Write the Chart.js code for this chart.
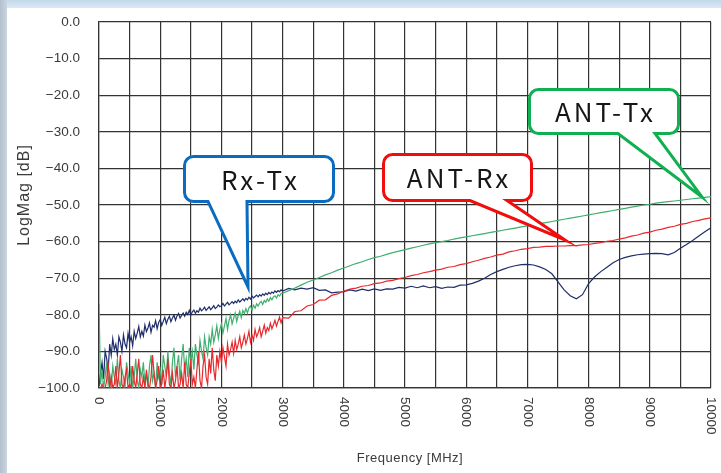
<!DOCTYPE html>
<html>
<head>
<meta charset="utf-8">
<script src="https://cdn.jsdelivr.net/npm/chart.js@4/dist/chart.umd.min.js"></script>
<style>
html,body{margin:0;padding:0;}
body{width:721px;height:473px;position:relative;overflow:hidden;background:#fff;}
#frameTop{position:absolute;left:0;top:0;width:721px;height:8px;background:linear-gradient(#c3d8ea,#dce9f4);}
#frameLeft{position:absolute;left:0;top:0;width:7px;height:473px;background:linear-gradient(90deg,#b2c0ce,#cad5df);}
#c{position:absolute;left:0;top:0;}
</style>
</head>
<body>
<div id="frameTop"></div><div id="frameLeft"></div>
<canvas id="c" width="721" height="473"></canvas>
<script>
// ====== 周波数グリッド（0-3000: 25MHz刻み, 3100-10000: 100MHz刻み）======
const freqLow = [];
for(let f=0; f<=3000; f+=25) freqLow.push(f);
const freqHigh = [];
for(let f=3100; f<=10000; f+=100) freqHigh.push(f);

const xTickLabels = [0,1000,2000,3000,4000,5000,6000,7000,8000,9000,10000];

// ====== Rx-Tx（紺）======
const rxTxLow = [
  -99.5,-96,-93,-97.5,-90,-92,-95,-88,
  -91,-86.5,-89.5,-88,-91,-86,-87.5,-90,
  -85.5,-88,-89,-85,-87.5,-86,-88.5,-84.5,
  -86.5,-85,-83.2,-86,-84.5,-85.8,-82.8,-84.6,
  -83.6,-82.2,-84.8,-82.9,-83.4,-81.6,-83.8,-82.1,
  -81.3,-82.9,-81.8,-80.7,-82.4,-81.2,-80.4,-81.9,
  -80.9,-80.1,-81.5,-80.3,-79.6,-80.9,-80.2,-79.5,
  -80.4,-79.3,-79.9,-78.8,-80.1,-79.2,-78.7,-79.6,
  -78.9,-79.3,-78.2,-78.9,-78.5,-77.9,-78.8,-78.3,
  -77.8,-78.6,-78.1,-77.5,-78.3,-77.9,-77.3,-77.8,
  -77.5,-76.9,-77.6,-77.1,-76.6,-77.3,-76.9,-76.4,
  -76.9,-76.3,-76.7,-75.9,-76.5,-76.1,-75.6,-76.2,
  -75.5,-75.9,-75.2,-75.7,-74.9,-75.4,-75.0,-74.6,
  -75.1,-74.5,-74.9,-74.3,-74.7,-74.1,-74.5,-73.9,
  -74.3,-73.8,-74.1,-73.5,-73.9,-73.4,-73.7,-73.2,
  -73.5
];
const rxTxHigh = [
  -72.8,-73.2,-72.7,-73.0,-72.6,-73.3,-73.2,-74.0,-73.8,-73.7,
  -73.2,-73.5,-73.0,-73.4,-72.9,-73.3,-72.9,-73.0,-72.5,-72.7,
  -72.2,-72.6,-72.1,-72.6,-72.3,-72.8,-72.4,-72.5,-71.9,-71.8,
  -71.4,-70.8,-70.0,-69.0,-68.2,-67.6,-67.0,-66.6,-66.3,-66.2,
  -66.4,-66.9,-67.6,-68.8,-71.0,-73.2,-74.8,-75.6,-74.5,-71.5,
  -69.6,-68.2,-67.0,-65.8,-64.9,-64.3,-63.9,-63.6,-63.4,-63.3,
  -63.2,-63.3,-63.6,-63.0,-61.8,-60.8,-59.7,-58.5,-57.3,-56.2
];

// ====== ANT-Tx（緑）======
const antTxLow = [
  -77,-99,-95,-100,-97,-93,-99,-96,
  -100,-94,-97,-99,-92,-98,-100,-95,
  -97,-100,-93,-96,-99,-94,-100,-97,
  -92,-98,-100,-95,-97,-93,-99,-96,
  -100,-94,-91,-98,-96,-100,-93,-97,
  -95,-99,-91,-94,-97,-90,-96,-99,
  -93,-89,-97,-94,-91,-98,-92,-88,
  -95,-92,-97,-89,-93,-90,-95,-88,
  -91,-93,-87,-90,-92,-86,-89,-91,
  -86,-88,-84,-87.5,-85.5,-83,-86.5,-84,
  -82.5,-85,-83,-81,-84,-81.5,-80,-82.5,
  -81,-79.5,-81.8,-80.2,-79,-80.8,-78.8,-79.6,
  -78.3,-79.5,-78.1,-77.6,-78.7,-77.4,-78.2,-77,
  -77.6,-76.8,-76.3,-77.2,-76.1,-76.6,-75.7,-76.3,
  -75.3,-75.9,-75.1,-74.8,-75.4,-74.5,-74.9,-74.2,
  -74.1
];
const antTxHigh = [
  -73.4,-72.7,-71.9,-71.1,-70.5,-69.8,-69.1,-68.5,-67.8,-67.2,
  -66.6,-66.0,-65.5,-64.9,-64.4,-64.0,-63.5,-63.0,-62.6,-62.2,
  -61.8,-61.4,-61.0,-60.6,-60.3,-60.0,-59.7,-59.3,-59.0,-58.7,
  -58.4,-58.1,-57.8,-57.5,-57.2,-56.9,-56.6,-56.3,-56.0,-55.7,
  -55.4,-55.1,-54.8,-54.5,-54.2,-53.9,-53.6,-53.3,-53.0,-52.7,
  -52.4,-52.1,-51.8,-51.5,-51.2,-50.9,-50.6,-50.3,-50.0,-49.8,
  -49.5,-49.3,-49.1,-48.9,-48.7,-48.5,-48.3,-48.1,-47.9,-47.7
];

// ====== ANT-Rx（赤）======
const antRxLow = [
  -100,-100,-99,-100,-100,-98,-93,-100,
  -97,-100,-99,-94,-100,-96,-91,-99,
  -100,-97,-95,-100,-99,-100,-94,-98,
  -100,-96,-92,-99,-100,-97,-100,-95,
  -99,-100,-97,-91,-96,-100,-98,-94,
  -100,-99,-95,-100,-97,-92,-99,-100,
  -96,-100,-98,-94,-100,-99,-96,-100,
  -93,-99,-100,-96,-92,-99,-97,-100,
  -95,-90,-98,-100,-94,-91,-97,-99,
  -92,-96,-89,-95,-98,-91,-94,-90,
  -93,-89,-91.5,-94,-88,-91,-89.5,-87.5,
  -90.5,-87,-89.5,-88,-86,-89,-87.5,-85.5,
  -88,-86.5,-84.5,-87.5,-85.5,-87,-84,-86,
  -85,-83.5,-86,-84.5,-82.8,-85,-83.5,-84.3,
  -82.3,-83.8,-82.7,-81.5,-83.1,-81.8,-80.6,-82.2,
  -80.8
];
const antRxHigh = [
  -80.9,-79.1,-78.9,-77.6,-77.2,-76.0,-75.9,-74.7,-74.3,-73.5,
  -73.0,-72.7,-72.2,-72.0,-71.5,-71.3,-70.8,-70.6,-70.1,-69.8,
  -69.3,-69.0,-68.5,-68.2,-67.8,-67.5,-67.0,-66.8,-66.3,-66.0,
  -65.5,-65.1,-64.6,-64.2,-63.7,-63.4,-62.8,-62.5,-62.1,-61.9,
  -61.6,-61.5,-61.3,-61.3,-61.2,-61.2,-61.1,-61.1,-60.9,-60.8,
  -60.5,-60.3,-59.9,-59.7,-59.3,-59.0,-58.5,-58.2,-57.7,-57.4,
  -56.9,-56.6,-56.1,-55.8,-55.3,-55.0,-54.5,-54.2,-53.8,-53.5
];

// 吹き出し（先端・箱は周波数/dB 単位）
const callouts = [
  { text:'Rx-Tx',  color:'#0a6cc0', box:[1397,3832,-36.75,-49.04], base:[1781,2418], tip:[2435,-72.4] },
  { text:'ANT-Rx', color:'#f20d0d', box:[4649,7067,-36.2,-48.77],  base:[6062,6667], tip:[7614,-59.56] },
  { text:'ANT-Tx', color:'#10b050', box:[7034,9469,-18.44,-30.46], base:[8480,9085], tip:[9853,-47.8] },
];

const freqAll = freqLow.concat(freqHigh);
const toXY = (lo, hi) => lo.concat(hi).map((v,i) => ({ x:freqAll[i], y:v }));

const tickFont = 'Liberation Sans, Arial, sans-serif';

function drawCallout(ctx, sx, sy, c){
  const l = sx.getPixelForValue(c.box[0]), r = sx.getPixelForValue(c.box[1]);
  const t = sy.getPixelForValue(c.box[2]), b = sy.getPixelForValue(c.box[3]);
  const ba = sx.getPixelForValue(c.base[0]), bb = sx.getPixelForValue(c.base[1]);
  const tx = sx.getPixelForValue(c.tip[0]), ty = sy.getPixelForValue(c.tip[1]);
  const rad = 9;
  ctx.save();
  ctx.beginPath();
  ctx.moveTo(l+rad, t);
  ctx.lineTo(r-rad, t);
  ctx.arcTo(r, t, r, t+rad, rad);
  ctx.lineTo(r, b-rad);
  ctx.arcTo(r, b, r-rad, b, rad);
  ctx.lineTo(bb, b);
  ctx.lineTo(tx, ty);
  ctx.lineTo(ba, b);
  ctx.lineTo(l+rad, b);
  ctx.arcTo(l, b, l, b-rad, rad);
  ctx.lineTo(l, t+rad);
  ctx.arcTo(l, t, l+rad, t, rad);
  ctx.closePath();
  ctx.fillStyle = '#fff';
  ctx.fill();
  ctx.lineWidth = 3;
  ctx.lineJoin = 'miter';
  ctx.strokeStyle = c.color;
  ctx.stroke();
  ctx.fillStyle = '#161616';
  ctx.font = '26px "Noto Sans CJK JP", sans-serif';
  ctx.letterSpacing = '3px';
  ctx.textAlign = 'center';
  ctx.textBaseline = 'middle';
  ctx.fillText(c.text, (l+r)/2 + 1.5, (t+b)/2 + 1);
  ctx.restore();
}

const overlay = {
  id:'overlay',
  afterDatasetsDraw(chart){
    const {ctx, scales:{x, y}} = chart;
    callouts.forEach(c => drawCallout(ctx, x, y, c));
  },
  afterDraw(chart){
    const {ctx, scales:{x}, chartArea} = chart;
    ctx.save();
    // x 目盛り（時計回りに90°）
    ctx.fillStyle = '#3a3a3a';
    ctx.font = '13.5px ' + tickFont;
    ctx.textAlign = 'left';
    ctx.textBaseline = 'middle';
    xTickLabels.forEach(v => {
      ctx.save();
      ctx.translate(x.getPixelForValue(v), chartArea.bottom + 9);
      ctx.rotate(Math.PI/2);
      ctx.fillText(String(v), 0, 0);
      ctx.restore();
    });
    // 軸タイトル
    ctx.textAlign = 'center';
    ctx.font = '13px ' + tickFont;
    ctx.letterSpacing = '0.5px';
    ctx.fillText('Frequency [MHz]', 410, 458);
    ctx.font = '16px ' + tickFont;
    ctx.letterSpacing = '1px';
    ctx.save();
    ctx.translate(25, 195);
    ctx.rotate(-Math.PI/2);
    ctx.fillText('LogMag [dB]', 0, 0);
    ctx.restore();
    ctx.restore();
  }
};

new Chart(document.getElementById('c').getContext('2d'), {
  type:'line',
  data:{
    datasets:[
      { label:'ANT-Rx', data:toXY(antRxLow, antRxHigh), borderColor:'#e8282c' },
      { label:'ANT-Tx', data:toXY(antTxLow, antTxHigh), borderColor:'#3fae6e' },
      { label:'Rx-Tx',  data:toXY(rxTxLow, rxTxHigh),   borderColor:'#1f2d6b' },
    ]
  },
  options:{
    responsive:false,
    animation:false,
    layout:{ padding:{ left:0, right:10, top:22, bottom:0 } },
    elements:{
      point:{ radius:0 },
      line:{ borderWidth:1.2, tension:0 }
    },
    plugins:{ legend:{ display:false }, tooltip:{ enabled:false } },
    scales:{
      x:{
        type:'linear', min:0, max:10000,
        ticks:{ stepSize:500, display:false },
        grid:{ color:'#333', lineWidth:1.2, drawTicks:false },
        border:{ color:'#333', width:1.2 },
        afterFit(s){ s.height = 85; }
      },
      y:{
        min:-100, max:0,
        ticks:{
          stepSize:10, padding:0, color:'#3a3a3a',
          font:{ family:tickFont, size:13.5 },
          callback:v => v === 0 ? '0.0' : '\u2212' + Math.abs(v).toFixed(1)
        },
        // 目盛り線は透明にして、ラベルと軸の間隔だけ確保
        grid:{ color:'#333', lineWidth:1.2, drawTicks:true, tickLength:19, tickColor:'rgba(0,0,0,0)' },
        border:{ color:'#333', width:1.2 },
        afterFit(s){ s.width = 99; }
      }
    }
  },
  plugins:[overlay]
});
</script>
</body>
</html>
